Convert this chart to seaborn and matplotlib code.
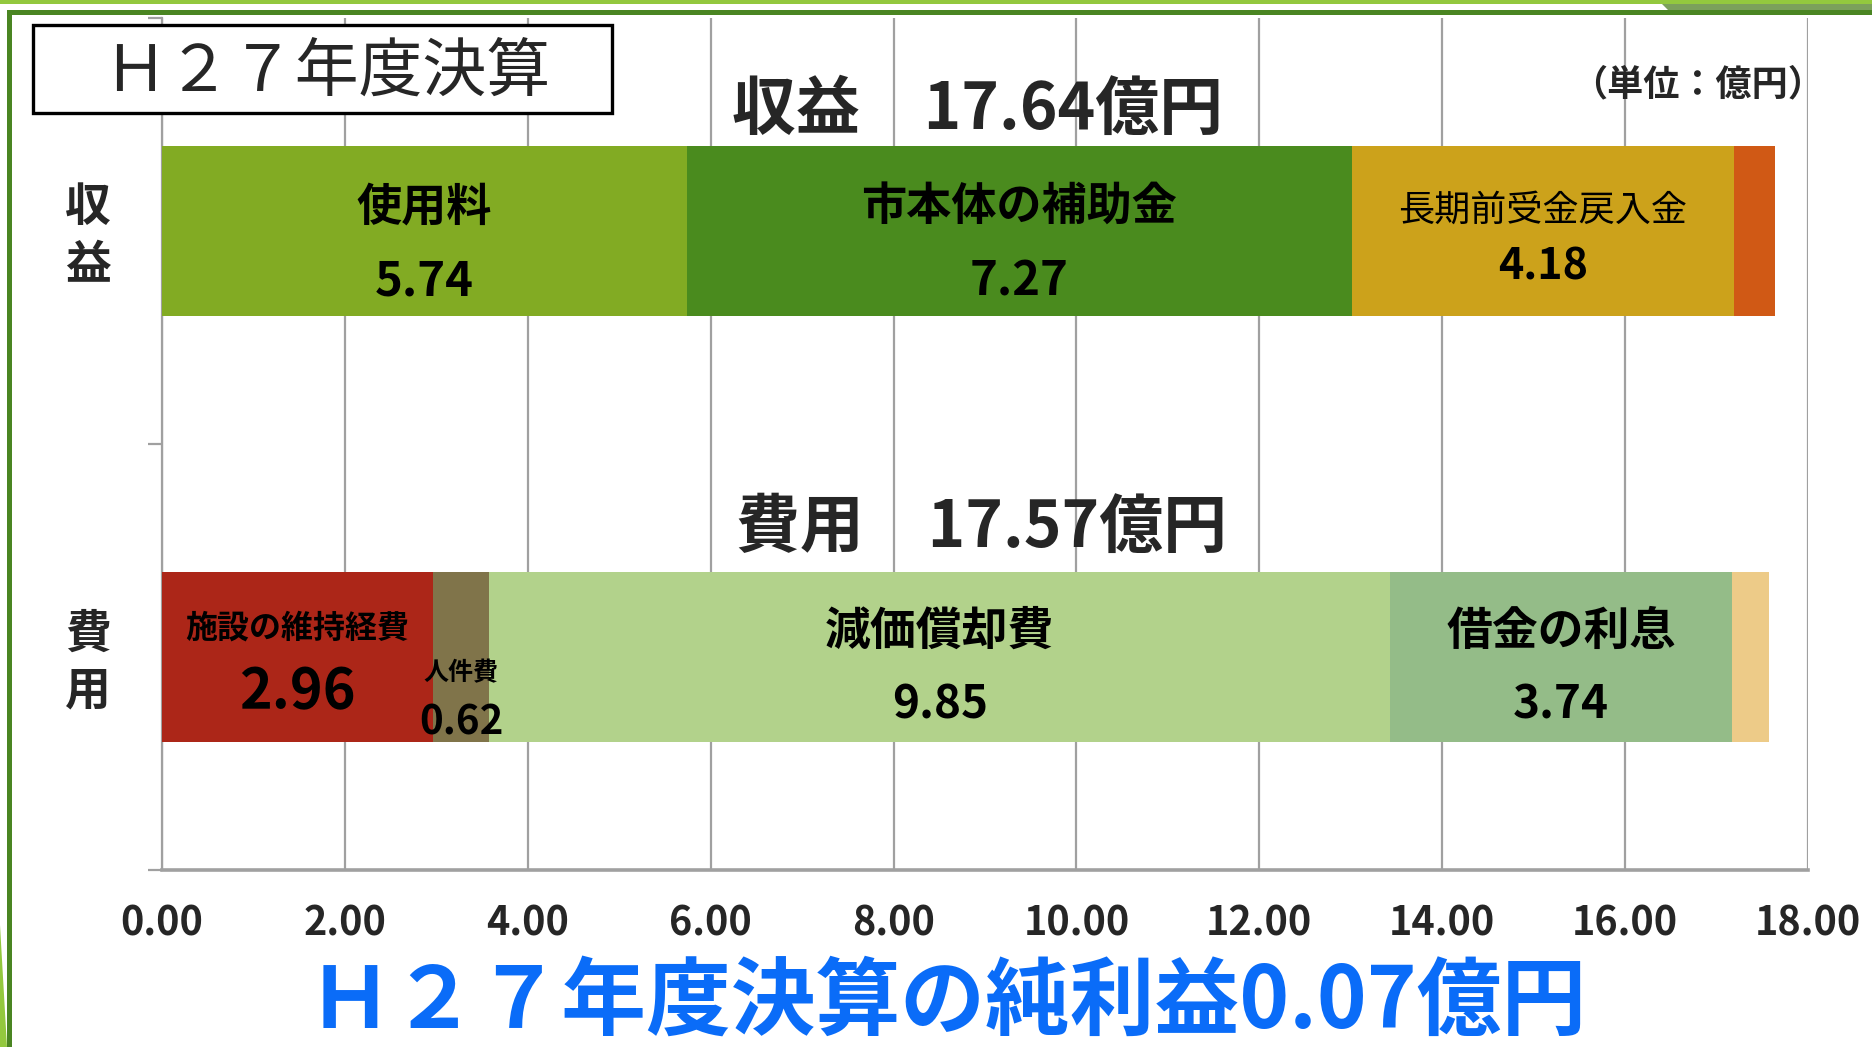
import matplotlib
matplotlib.use("Agg")
import matplotlib.pyplot as plt
import seaborn as sns
import pandas as pd
import numpy as np
from matplotlib.patches import Rectangle, Polygon
from matplotlib.transforms import blended_transform_factory

# ---------------- data ----------------
categories = ["収益", "費用"]
rev_names = ["使用料", "市本体の補助金", "長期前受金戻入金", ""]
rev_values = [5.74, 7.27, 4.18, 0.45]
cost_names = ["施設の維持経費", "人件費", "減価償却費", "借金の利息", ""]
cost_values = [2.96, 0.62, 9.85, 3.74, 0.40]
x_ticks = [0, 2, 4, 6, 8, 10, 12, 14, 16, 18]
box_title = "Ｈ２７年度決算"
unit_label = "（単位：億円）"

# ---------------- styles ----------------
rev_colors = ["#82AB23", "#4A8B1E", "#CCA21B", "#D05915"]
cost_colors = ["#AC2618", "#80744A", "#B2D28B", "#94BC88", "#EDCB88"]
# (name size, name weight, name dy, value size, value weight, value dy)
rev_label_style = [(32.5, "bold", -0.056, 34, "bold", 0.118),
                   (32.5, "bold", -0.056, 34, "bold", 0.118),
                   (26, "normal", -0.047, 31, "bold", 0.084),
                   None]
cost_label_style = [(23, "bold", -0.066, 40, "bold", 0.083),
                    (18, "bold", 0.038, 29, "bold", 0.156),
                    (33, "bold", -0.06, 33, "bold", 0.115),
                    (33, "bold", -0.06, 33, "bold", 0.115),
                    None]

W, H = 1872, 1047
sns.set_style("white")
plt.rcParams["font.family"] = ["Noto Sans CJK JP", "DejaVu Sans"]
plt.rcParams["axes.unicode_minus"] = False

fig = plt.figure(figsize=(W / 100, H / 100), dpi=100)
fig.patch.set_facecolor("white")

ax_l, ax_r, ax_t, ax_b = 162, 1808, 18, 870
ax = fig.add_axes([ax_l / W, 1 - ax_b / H, (ax_r - ax_l) / W, (ax_b - ax_t) / H])
ax.set_facecolor("white")

GRID = "#A0A0A0"


def draw_stack(cat, values, colors):
    cum = np.cumsum(values)
    for i in range(len(values) - 1, -1, -1):
        df = pd.DataFrame({"value": [cum[i]], "cat": [cat]})
        sns.barplot(data=df, x="value", y="cat", order=categories, orient="h",
                    color=colors[i], width=0.4, saturation=1, ax=ax,
                    linewidth=0, zorder=3)
    return cum


rev_cum = draw_stack(categories[0], rev_values, rev_colors)
cost_cum = draw_stack(categories[1], cost_values, cost_colors)

ax.set_xlim(0, 18)
ax.set_ylim(1.5, -0.5)
ax.set_xlabel("")
ax.set_ylabel("")
ax.set_xticks(x_ticks)
ax.set_xticklabels([f"{v:.2f}" for v in x_ticks], fontsize=28.5, fontweight="bold")
ax.set_yticks([-0.5, 0.5, 1.5])
ax.set_yticklabels([])
ax.xaxis.grid(True, color=GRID, linewidth=1.6, zorder=0)
ax.yaxis.grid(False)
ax.set_axisbelow(True)
ax.tick_params(axis="x", direction="out", length=10, width=1.2, color=GRID, pad=14)
ax.tick_params(axis="y", direction="out", length=10, width=1.6, color=GRID, left=True)
for s in ["top", "right"]:
    ax.spines[s].set_visible(False)
ax.spines["left"].set_color(GRID)
ax.spines["left"].set_linewidth(1.6)
ax.spines["bottom"].set_color(GRID)
ax.spines["bottom"].set_linewidth(2.6)


def label_segments(cat_idx, names, values, cum, styles):
    starts = cum - np.array(values)
    for name, v, s, c, st in zip(names, values, starts, cum, styles):
        if st is None:
            continue
        xc = (s + c) / 2
        nsz, nw, ndy, vsz, vw, vdy = st
        ax.text(xc, cat_idx + ndy, name, ha="center", va="center",
                fontsize=nsz, fontweight=nw, color="black", zorder=5)
        ax.text(xc, cat_idx + vdy, f"{v:.2f}", ha="center", va="center",
                fontsize=vsz, fontweight=vw, color="black", zorder=5)


label_segments(0, rev_names, rev_values, rev_cum, rev_label_style)
label_segments(1, cost_names, cost_values, cost_cum, cost_label_style)

# category labels on the left (vertical)
ytr = blended_transform_factory(fig.transFigure, ax.transData)
for i, cat in enumerate(categories):
    ax.text(88 / W, i - 0.053, cat[0], transform=ytr, ha="center", va="center",
            fontsize=33, fontweight="bold", clip_on=False)
    ax.text(88 / W, i + 0.082, cat[1], transform=ytr, ha="center", va="center",
            fontsize=33, fontweight="bold", clip_on=False)


def fx(x):
    return x / W


def fy(y):
    return 1 - y / H


# totals
rev_total = sum(rev_values)
cost_total = sum(cost_values)
fig.text(fx(977), fy(110), f"{categories[0]}　{rev_total:.2f}億円", ha="center", va="center",
         fontsize=46, fontweight="bold")
fig.text(fx(981), fy(528), f"{categories[1]}　{cost_total:.2f}億円", ha="center", va="center",
         fontsize=46, fontweight="bold")

# unit
fig.text(fx(1824), fy(85), unit_label, ha="right", va="center", fontsize=26, fontweight="bold")

# title box
fig.add_artist(Rectangle((fx(33), fy(113)), fx(612) - fx(33), fy(25) - fy(113),
                         transform=fig.transFigure, facecolor="white", edgecolor="black",
                         linewidth=2.4, zorder=10))
fig.text(fx(327), fy(72), box_title, ha="center", va="center", fontsize=46,
         fontweight="normal", zorder=11)

# net profit
net = rev_total - cost_total
fig.text(fx(947), fy(1002), f"Ｈ２７年度決算の純利益{net:.2f}億円", ha="center", va="center",
         fontsize=61, fontweight="bold", color="#0A6CF8", zorder=11)

# slide frame decoration
fig.add_artist(Rectangle((0, fy(4)), 1, fy(0) - fy(4), transform=fig.transFigure,
                         facecolor="#93C83E", edgecolor="none", zorder=12))
fig.add_artist(Rectangle((fx(7), fy(15)), 1, fy(10) - fy(15), transform=fig.transFigure,
                         facecolor="#4A8522", edgecolor="none", zorder=12))
fig.add_artist(Rectangle((fx(7), 0), fx(12) - fx(7), fy(10), transform=fig.transFigure,
                         facecolor="#4A8522", edgecolor="none", zorder=12))
fig.add_artist(Polygon([(fx(1662), fy(4)), (1, fy(4)), (1, fy(10)), (fx(1668), fy(10))],
                       closed=True, transform=fig.transFigure, facecolor="#7BA05B",
                       edgecolor="none", zorder=12))
fig.add_artist(Polygon([(0, fy(925)), (fx(7), fy(1047)), (0, fy(1047))],
                       closed=True, transform=fig.transFigure, facecolor="#93C83E",
                       edgecolor="none", zorder=12))

fig.savefig("out.png", dpi=100, facecolor="white")
